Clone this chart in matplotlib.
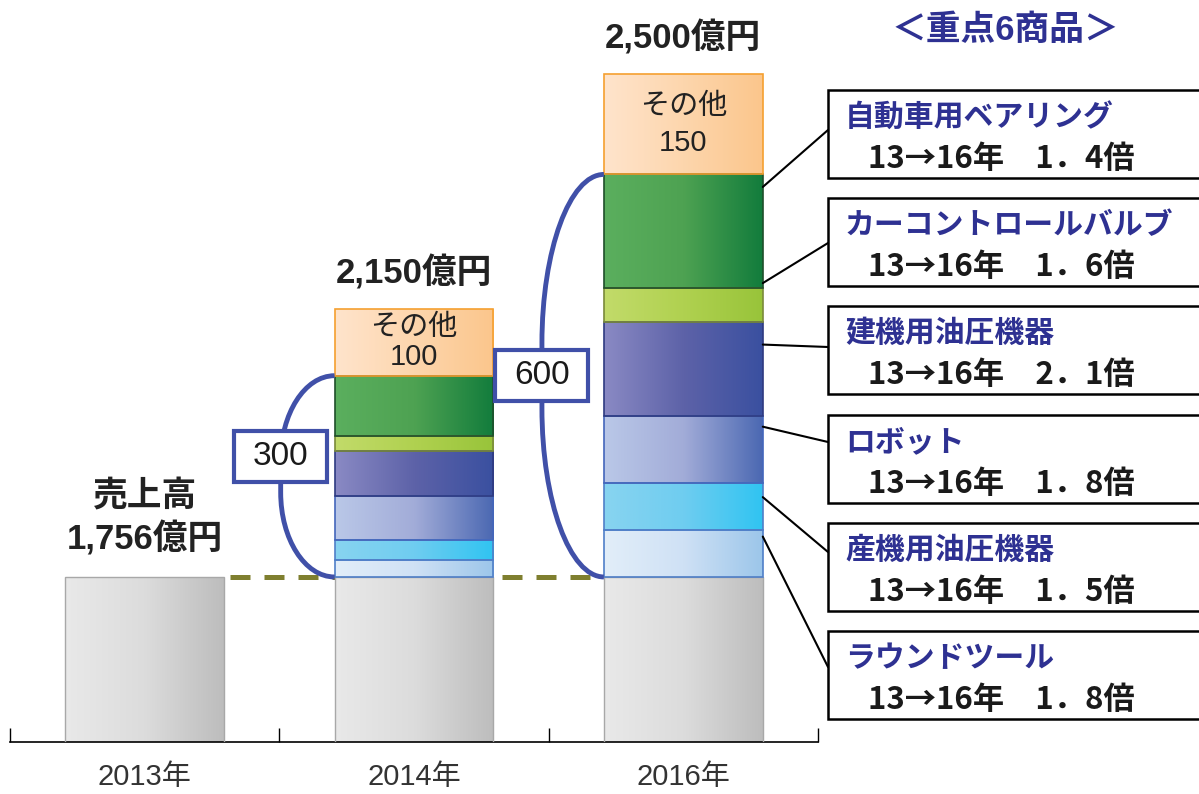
import numpy as np
import matplotlib.pyplot as plt
from matplotlib.colors import LinearSegmentedColormap
from matplotlib.patches import Rectangle, PathPatch, ConnectionPatch
from matplotlib.path import Path

plt.rcParams['font.family'] = ['Liberation Sans', 'Noto Sans CJK JP', 'DejaVu Sans']

# data (stacking order: bottom -> top)
years = ['2013年', '2014年', '2016年']
base = 1756
products = ['ラウンドツール', '産機用油圧機器', 'ロボット', '建機用油圧機器',
            'カーコントロールバルブ', '自動車用ベアリング']
v2014 = [25, 30, 65, 68, 22, 90]
v2016 = [70, 70, 100, 140, 50, 170]
other = [100, 150]
growth = ['1．8', '1．5', '1．8', '2．1', '1．6', '1．4']
total_labels = ['1,756億円', '2,150億円', '2,500億円']

seg_colors = [
    (['#e2eef9', '#cfe1f5', '#9cc6ea'], '#4f7fc8'),
    (['#88d4f0', '#6fcdf0', '#30c4f2'], '#4f7fc8'),
    (['#bac8e8', '#a2acd8', '#4b68b2'], '#4466bb'),
    (['#8a8ac4', '#5d62a8', '#3a50a0'], '#2e3a80'),
    (['#c2db6a', '#b0d150', '#98c43a'], '#7a8a3a'),
    (['#5baf5e', '#4ea252', '#127c3c'], '#1f4f2a'),
]
other_colors = (['#ffe4cc', '#fdd6ad', '#fbc68c'], '#f5a030')
base_colors = (['#e9e9e9', '#dcdcdc', '#bdbdbd'], '#a8a8a8')
blue = '#2e3192'
brace_c = '#4050a8'

W, H = 1199, 794
fig = plt.figure(figsize=(W / 100, H / 100), dpi=100)
ax = fig.add_axes([10 / W, 52 / H, 808 / W, 742 / H])
bar_w = 0.59
ymin, ymax = 1510, 2616


def fpos(x, y):
    return x / W, 1 - y / H


def grad_bar(x, bottom, height, colors, edge, lw=1.0):
    r = ax.bar(x, height, width=bar_w, bottom=bottom, facecolor='none',
               edgecolor=edge, linewidth=lw, zorder=3)[0]
    cmap = LinearSegmentedColormap.from_list('g', colors)
    im = ax.imshow(np.linspace(0, 1, 256)[None, :], cmap=cmap, aspect='auto',
                   extent=(x - bar_w / 2, x + bar_w / 2, max(bottom, ymin), bottom + height),
                   zorder=2, interpolation='bilinear')
    im.set_clip_path(r)
    return r


# base bars
for i in range(3):
    grad_bar(i, 0, base, *base_colors)

# stacked segments
for pos, segs, oth in zip([1, 2], [v2014, v2016], other):
    bottom = base
    for val, (cols, ec) in zip(segs, seg_colors):
        grad_bar(pos, bottom, val, cols, ec, lw=1.2)
        bottom += val
    grad_bar(pos, bottom, oth, *other_colors, lw=1.2)

# dashed line at 2013 level
ax.plot([bar_w / 2 + 0.02, 2 - bar_w / 2], [base, base], color='#7f7f2f', lw=3.6,
        dashes=(4, 2.8), zorder=1, dash_capstyle='butt')

# "other" labels
for pos, segs, oth, ls in zip([1, 2], [v2014, v2016], other, [1.08, 1.4]):
    top = base + sum(segs)
    ax.text(pos, top + oth / 2, f'その他\n{oth}', ha='center', va='center',
            fontsize=21, color='#222222', linespacing=ls, zorder=4)

# braces with totals
for pos, segs, depth, offs in zip([1, 2], [v2014, v2016], [0.2, 0.23], [30, 0]):
    h = sum(segs)
    top = base + h
    R = pos - bar_w / 2
    L = R - depth
    ry = 0.42 * h
    k = 0.552
    verts = [(R, top), (R - k * depth, top), (L, top - ry + k * ry), (L, top - ry),
             (L, base + ry), (L, base + ry - k * ry), (R - k * depth, base), (R, base)]
    codes = [Path.MOVETO, Path.CURVE4, Path.CURVE4, Path.CURVE4,
             Path.LINETO, Path.CURVE4, Path.CURVE4, Path.CURVE4]
    ax.add_patch(PathPatch(Path(verts, codes), fill=False, ec=brace_c, lw=3.5, zorder=4))
    cy = base + h / 2 + offs
    bw, bh = 0.345, 76
    ax.add_patch(Rectangle((L - bw / 2, cy - bh / 2), bw, bh, fc='white', ec=brace_c,
                           lw=3, zorder=5))
    ax.text(L, cy, str(h), ha='center', va='center', fontsize=24,
            color='#1a1a1a', zorder=6)

# totals above bars
ax.annotate('売上高\n' + total_labels[0], xy=(0, base), xytext=(0, 42),
            textcoords='offset points', ha='center', va='center', fontsize=25,
            fontweight='bold', color='#222222', linespacing=1.3)
for pos, segs, oth in zip([1, 2], [v2014, v2016], other):
    ax.annotate(total_labels[pos], xy=(pos, base + sum(segs) + oth), xytext=(0, 26),
                textcoords='offset points', ha='center', va='center', fontsize=25,
                fontweight='bold', color='#222222')

ax.set_xlim(-0.5, 2.5)
ax.set_ylim(ymin, ymax)
ax.set_xticks([0, 1, 2])
ax.set_xticklabels(years, fontsize=21, color='#333333')
ax.set_xticks([-0.5, 0.5, 1.5, 2.5], minor=True)
ax.tick_params(axis='x', which='major', length=0, pad=15)
ax.tick_params(axis='x', which='minor', direction='in', length=10, width=1)
ax.set_yticks([])
for s in ['top', 'left', 'right']:
    ax.spines[s].set_visible(False)
ax.spines['bottom'].set_linewidth(1.2)

# header
fig.text(*fpos(1005, 30), '＜重点6商品＞', ha='center', va='center', fontsize=25,
         fontweight='bold', color=blue)

# right-hand boxes (top -> bottom)
box_tops = [90, 198, 306, 415, 523, 631]
leader_y = [130, 243, 347, 442, 552, 667]
anchor_frac = [0.86, 0.7, 0.84, 0.76, 1.16, 0.89]  # bottom -> top order
anchors = []
b = base
for val, f in zip(v2016, anchor_frac):
    anchors.append(b + f * val)
    b += val

for j in range(6):
    idx = 5 - j
    top = box_tops[j]
    fig.add_artist(Rectangle(fpos(828, top + 88), (1215 - 828) / W, 88 / H,
                             transform=fig.transFigure, fc='white', ec='black',
                             lw=1.8, clip_on=False))
    fig.text(*fpos(845, top + 28), products[idx], ha='left', va='center', fontsize=21.5,
             fontweight='bold', color=blue)
    fig.text(*fpos(868, top + 69), f'13→16年　{growth[idx]}倍', ha='left', va='center',
             fontsize=22.5, fontweight='bold', color='#1a1a1a',
             family=['Noto Sans CJK JP', 'DejaVu Sans'])
    con = ConnectionPatch(xyA=fpos(828, leader_y[j]), coordsA='figure fraction',
                          xyB=(2 + bar_w / 2, anchors[idx]), coordsB='data', axesB=ax,
                          color='black', lw=1.5)
    fig.add_artist(con)

fig.savefig('out.png', dpi=100)
